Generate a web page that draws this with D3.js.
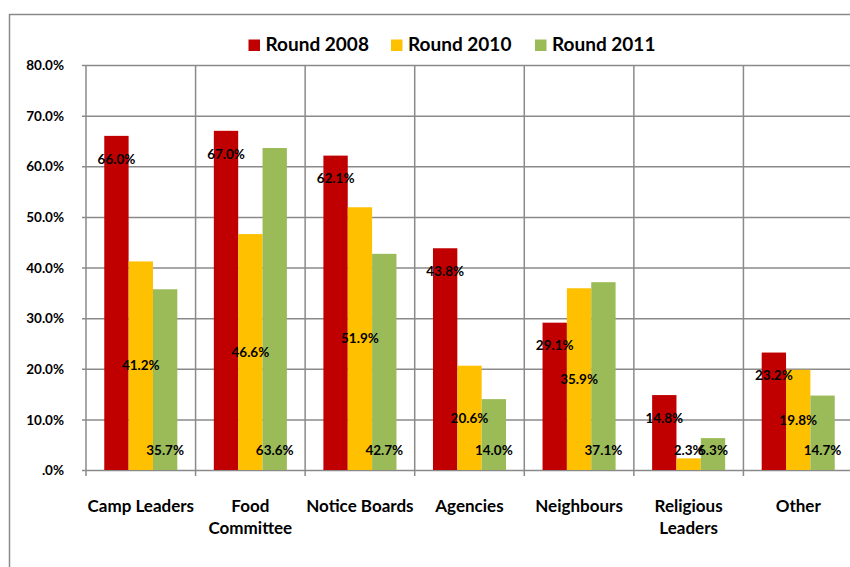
<!DOCTYPE html>
<html>
<head>
<meta charset="utf-8">
<script src="https://cdn.jsdelivr.net/npm/d3@7"></script>
<style>
  html, body { margin: 0; padding: 0; background: #fff; }
  svg { display: block; }
  text { font-family: Lato, "Open Sans", "DejaVu Sans", sans-serif; font-weight: bold; fill: #000; }
</style>
</head>
<body>
<svg id="chart" width="850" height="567"></svg>
<script>
// ---- data ----
const categories = [["Camp Leaders"], ["Food", "Committee"], ["Notice Boards"], ["Agencies"], ["Neighbours"], ["Religious", "Leaders"], ["Other"]];
const seriesNames = ["Round 2008", "Round 2010", "Round 2011"];
const round2008 = [66.0, 67.0, 62.1, 43.8, 29.1, 14.8, 23.2];
const round2010 = [41.2, 46.6, 51.9, 20.6, 35.9, 2.3, 19.8];
const round2011 = [35.7, 63.6, 42.7, 14.0, 37.1, 6.3, 14.7];
const tickValues = [0, 10, 20, 30, 40, 50, 60, 70, 80];
const tickLabels = [".0%", "10.0%", "20.0%", "30.0%", "40.0%", "50.0%", "60.0%", "70.0%", "80.0%"];
const colors = ["#C00000", "#FFC000", "#9BBB59"];

const seriesValues = [round2008, round2010, round2011];
const catKeys = categories.map(c => c.join(" "));

const svg = d3.select("#chart");
const grid = "#8a8a8a";

// outer chart border
svg.append("rect")
  .attr("x", 9.5).attr("y", 14.5)
  .attr("width", 900).attr("height", 700)
  .attr("fill", "none").attr("stroke", grid).attr("stroke-width", 1.5);

const pLeft = 86, pRight = 853, pTop = 65, pBottom = 470;

const x = d3.scaleBand().domain(catKeys).range([pLeft, pRight]).padding(0);
const bw = x.bandwidth();
const xs = d3.scaleBand().domain(seriesNames).range([bw / 6, bw - bw / 6]).padding(0);
const y = d3.scaleLinear().domain([0, 80]).range([pBottom, pTop]);

// horizontal gridlines + y ticks
const yAxis = d3.axisLeft(y).tickValues(tickValues)
  .tickFormat((d, i) => tickLabels[i])
  .tickSize(-(850 - pLeft + 10)).tickPadding(0);
const gy = svg.append("g").attr("transform", `translate(${pLeft},0)`).call(yAxis);
gy.select(".domain").remove();
gy.selectAll(".tick line").attr("stroke", grid).attr("stroke-width", 1.5).attr("x1", -4);
gy.selectAll(".tick text").attr("x", -22).attr("font-size", 13.5).attr("dy", "0.35em").attr("fill", "#000");

// vertical gridlines at category boundaries (with ticks below baseline)
const bounds = catKeys.map(k => x(k)).concat([pRight]);
svg.append("g").selectAll("line").data(bounds).join("line")
  .attr("x1", d => d).attr("x2", d => d)
  .attr("y1", pTop).attr("y2", pBottom + 6)
  .attr("stroke", grid).attr("stroke-width", 1.5);

// bars
const gBars = svg.append("g");
seriesNames.forEach((s, si) => {
  gBars.selectAll(null).data(seriesValues[si]).join("rect")
    .attr("x", (d, i) => x(catKeys[i]) + xs(s))
    .attr("width", xs.bandwidth())
    .attr("y", d => y(d))
    .attr("height", d => y(0) - y(d))
    .attr("fill", colors[si]);
});

// data labels
const gLab = svg.append("g");
const labelY = [
  d => y(d) + 23,                                  // inside end
  d => Math.min((y(d) + y(0)) / 2, y(0) - 20),     // centered
  d => y(0) - 20                                   // inside base
];
seriesNames.forEach((s, si) => {
  gLab.selectAll(null).data(seriesValues[si]).join("text")
    .attr("x", (d, i) => x(catKeys[i]) + xs(s) + xs.bandwidth() / 2)
    .attr("y", d => labelY[si](d))
    .attr("dy", "0.35em")
    .attr("text-anchor", "middle")
    .attr("font-size", 13.5)
    .text(d => d.toFixed(1) + "%");
});

// category labels
const gCat = svg.append("g");
categories.forEach((lines, i) => {
  const t = gCat.append("text")
    .attr("x", x(catKeys[i]) + bw / 2)
    .attr("y", 506)
    .attr("text-anchor", "middle")
    .attr("font-size", 17);
  lines.forEach((ln, j) => {
    t.append("tspan").attr("x", x(catKeys[i]) + bw / 2).attr("y", 506 + j * 22).attr("dy", "0.35em").text(ln);
  });
});

// legend
const legendX = [248.5, 391, 535];
const gLeg = svg.append("g");
seriesNames.forEach((s, si) => {
  gLeg.append("rect").attr("x", legendX[si]).attr("y", 39.5).attr("width", 11.5).attr("height", 11.5).attr("fill", colors[si]);
  gLeg.append("text").attr("x", legendX[si] + 17).attr("y", 44.5).attr("dy", "0.35em")
    .attr("font-size", 19).text(s);
});
</script>
</body>
</html>
